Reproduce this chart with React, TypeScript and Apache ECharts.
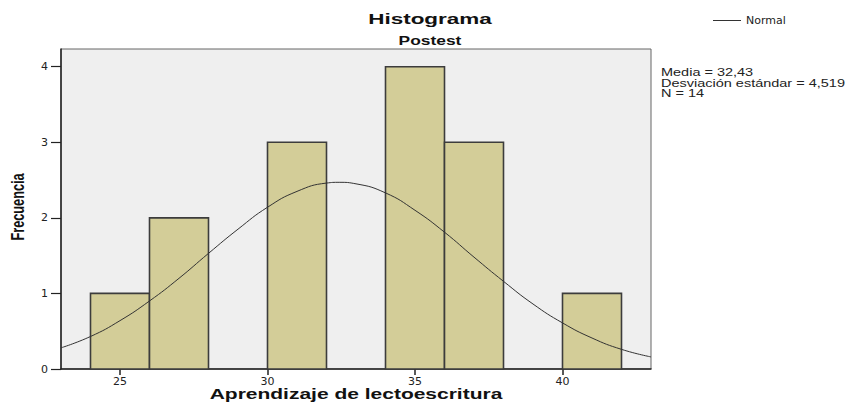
import React, { useEffect, useRef } from "react";
import * as echarts from "echarts";

// Histogram bins: [start, end, frequency]
const binStarts = [24, 26, 30, 34, 36, 40];
const binEnds = [26, 28, 32, 36, 38, 42];
const frequencies = [1, 2, 3, 4, 3, 1];

// Normal curve (x, expected count)
const curveX = [23, 24, 25, 26, 27, 28, 29, 30, 31, 32, 32.43, 33, 34, 35, 36, 37, 38, 39, 40, 41, 42, 43];
const curveY = [0.28, 0.43, 0.64, 0.9, 1.2, 1.53, 1.85, 2.14, 2.35, 2.46, 2.47, 2.45, 2.33, 2.1, 1.81, 1.48, 1.16, 0.86, 0.61, 0.41, 0.26, 0.16];

const xTicks = [25, 30, 35, 40];
const yTicks = [0, 1, 2, 3, 4];

const statLines = ["Media = 32,43", "Desviación estándar = 4,519", "N = 14"];

export default function App() {
  const ref = useRef<HTMLDivElement>(null);
  useEffect(() => {
    if (!ref.current) return;
    const chart = echarts.init(ref.current, null, { renderer: "svg" });
    const binData = binStarts.map((s, i) => [s, binEnds[i], frequencies[i]]);
    const curveData = curveX.map((x, i) => [x, curveY[i]]);
    const font = "Liberation Sans, Arial, sans-serif";
    chart.setOption({
      animation: false,
      backgroundColor: "#ffffff",
      grid: {
        left: 61,
        right: 206,
        top: 49,
        bottom: 41,
        show: true,
        backgroundColor: "#efefef",
        borderColor: "#666666",
        borderWidth: 1,
      },
      legend: {
        left: 708,
        top: 10,
        itemWidth: 28,
        itemHeight: 1,
        data: [{ name: "Normal", icon: "rect" }],
        textStyle: { fontFamily: "DejaVu Sans", fontSize: 11, color: "#222" },
        itemGap: 3,
        itemStyle: { color: "#333" },
      },
      xAxis: {
        type: "value",
        min: 23,
        max: 43,
        splitLine: { show: false },
        axisLine: { lineStyle: { color: "#222", width: 1.5 } },
        axisTick: { show: true, length: 6, customValues: xTicks, lineStyle: { color: "#222", width: 1.5 } },
        axisLabel: { customValues: xTicks, fontFamily: "DejaVu Sans", fontSize: 11, color: "#222", margin: 7 },
      },
      yAxis: {
        type: "value",
        min: 0,
        max: 4.234,
        interval: 1,
        splitLine: { show: false },
        axisLine: { show: true, lineStyle: { color: "#222", width: 1.5 } },
        axisTick: { show: true, length: 10, customValues: yTicks, lineStyle: { color: "#222", width: 1.2 } },
        axisLabel: { customValues: yTicks, fontFamily: "DejaVu Sans", fontSize: 11, color: "#222", margin: 13 },
      },
      series: [
        {
          type: "custom",
          name: "Frecuencia",
          data: binData,
          encode: { x: [0, 1], y: 2 },
          renderItem: (params: any, api: any) => {
            const p0 = api.coord([api.value(0), api.value(2)]);
            const p1 = api.coord([api.value(1), 0]);
            return {
              type: "rect",
              shape: { x: p0[0], y: p0[1], width: p1[0] - p0[0], height: p1[1] - p0[1] },
              style: { fill: "#d3cd98", stroke: "#3c3c3c", lineWidth: 1.6 },
            };
          },
          z: 2,
        },
        {
          type: "line",
          name: "Normal",
          data: curveData,
          smooth: true,
          showSymbol: false,
          symbol: "none",
          lineStyle: { color: "#333333", width: 1 },
          itemStyle: { color: "#333333" },
          z: 3,
        },
      ],
      graphic: [
        {
          type: "text",
          x: 430,
          y: 19,
          scaleX: 1.5,
          style: { text: "Histograma", font: `bold 15px ${font}`, fill: "#111", textAlign: "center", textVerticalAlign: "middle" },
        },
        {
          type: "text",
          x: 430,
          y: 41,
          scaleX: 1.45,
          style: { text: "Postest", font: `bold 12px ${font}`, fill: "#111", textAlign: "center", textVerticalAlign: "middle" },
        },
        {
          type: "text",
          x: 356,
          y: 394,
          scaleX: 1.5,
          style: { text: "Aprendizaje de lectoescritura", font: `bold 14px ${font}`, fill: "#111", textAlign: "center", textVerticalAlign: "middle" },
        },
        {
          type: "text",
          x: 17,
          y: 207,
          rotation: Math.PI / 2,
          scaleX: 0.67,
          style: { text: "Frecuencia", font: `bold 19px ${font}`, fill: "#111", textAlign: "center", textVerticalAlign: "middle" },
        },
        ...statLines.map((t, i) => ({
          type: "text",
          x: 661,
          y: 68 + i * 10.5,
          scaleX: 1.45,
          style: { text: t, font: `10px ${font}`, fill: "#222", textAlign: "left", textVerticalAlign: "top" },
        })),
      ],
    });
    return () => chart.dispose();
  }, []);
  return <div ref={ref} style={{ width: 857, height: 410, margin: -8 }} />;
}
